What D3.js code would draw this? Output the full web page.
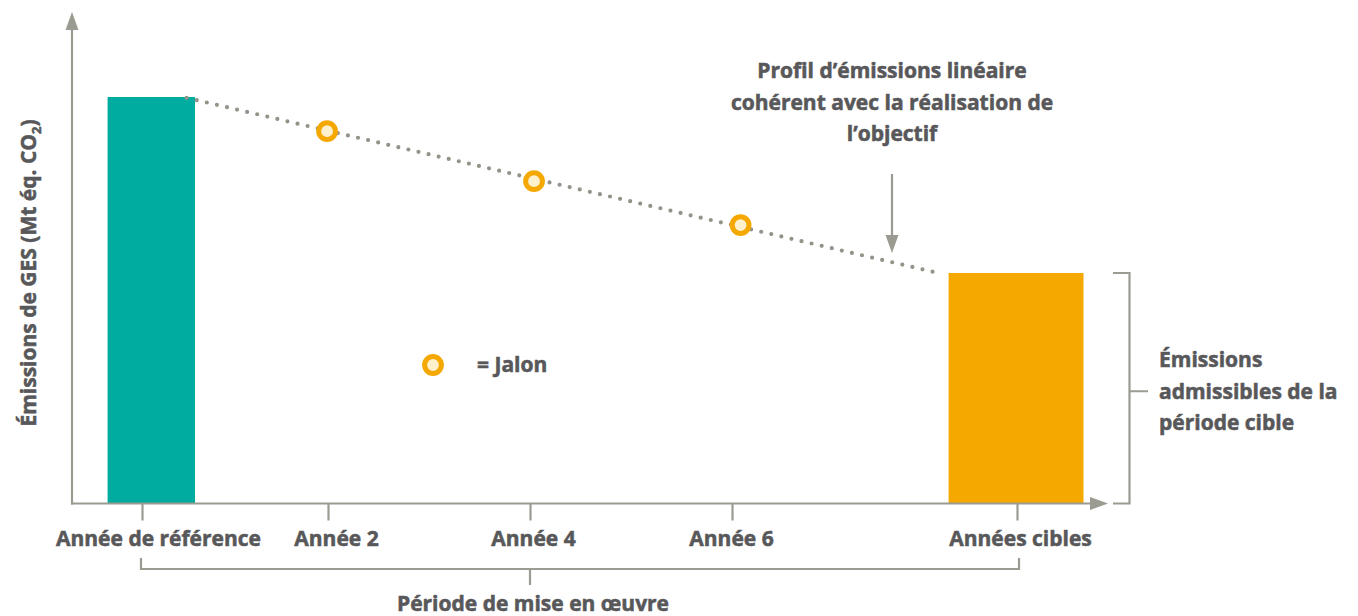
<!DOCTYPE html>
<html lang="fr">
<head>
<meta charset="utf-8">
<script src="https://cdn.jsdelivr.net/npm/d3@7"></script>
<style>
  html, body { margin: 0; padding: 0; background: #ffffff; }
  svg { display: block; }
  text { font-family: "Open Sans", "Noto Sans", sans-serif; font-weight: 700; fill: #58585a; stroke: #58585a; stroke-width: 0.55px; }
</style>
</head>
<body>
<svg id="chart" width="1358" height="616"></svg>
<script>
// Timeline categories (in years from the reference year)
const categories = ["Année de référence", "Année 2", "Année 4", "Année 6", "Années cibles"];
const categoryYears = [0, 2, 4, 6, 9];

// Emission bars: reference year and target years (span in years, value in % of reference)
const barNames = ["Année de référence", "Années cibles"];
const barStartYears = [-0.37, 8.28];
const barEndYears = [0.57, 9.7];
const barValues = [100, 56.7];

// Milestones along the trajectory
const milestoneYears = [1.99, 4.04, 6.09];
const milestoneValues = [91.6, 79.3, 68.5];

// Linear emission profile from reference level to target level
const profileYears = [0.48, 8.19];
const profileValues = [99.8, 56.6];

const COLORS = { teal: "#00aba0", orange: "#f5a800", ring: "#f5a800", ringFill: "#fdf0cd", axis: "#9b9b91", dots: "#93938a" };

const svg = d3.select("#chart");

// Plot frame
const frame = { left: 72, right: 1108, top: 12, bottom: 503.5 };

// Horizontal nudges of the category labels relative to their ticks
const LABEL_NUDGE = [16, 8, 3, -1, 3];

const x = d3.scaleLinear()
  .domain(categoryYears)
  .range([142, 328, 530, 732, 1017]);

const y = d3.scaleLinear()
  .domain([0, 100])
  .range([frame.bottom, 97]);

// Bars
const bars = barNames.map((name, i) => ({ name, x0: barStartYears[i], x1: barEndYears[i], v: barValues[i] }));
svg.append("g").selectAll("rect")
  .data(bars)
  .join("rect")
  .attr("x", d => x(d.x0))
  .attr("width", d => x(d.x1) - x(d.x0))
  .attr("y", d => y(d.v))
  .attr("height", d => y(0) - y(d.v))
  .attr("fill", (d, i) => i === 0 ? COLORS.teal : COLORS.orange);

// Axes
const axisG = svg.append("g");
axisG.append("line")
  .attr("x1", frame.left).attr("x2", frame.left)
  .attr("y1", frame.bottom + 1).attr("y2", frame.top + 14)
  .attr("stroke", COLORS.axis).attr("stroke-width", 2.2);
axisG.append("path")
  .attr("d", `M${frame.left},${frame.top} L${frame.left - 6.5},${frame.top + 18} L${frame.left + 6.5},${frame.top + 18} Z`)
  .attr("fill", COLORS.axis);
axisG.append("line")
  .attr("x1", frame.left - 1).attr("x2", frame.right - 14)
  .attr("y1", frame.bottom).attr("y2", frame.bottom)
  .attr("stroke", COLORS.axis).attr("stroke-width", 2.2);
axisG.append("path")
  .attr("d", `M${frame.right},${frame.bottom} L${frame.right - 18},${frame.bottom - 6.5} L${frame.right - 18},${frame.bottom + 6.5} Z`)
  .attr("fill", COLORS.axis);

// Category ticks and labels
const xAxis = d3.axisBottom(x)
  .tickValues(categoryYears)
  .tickFormat((d, i) => categories[i])
  .tickSize(17)
  .tickPadding(0);
const xAxisG = svg.append("g")
  .attr("transform", `translate(0,${frame.bottom})`)
  .call(xAxis);
xAxisG.attr("font-family", null).attr("font-size", null);
xAxisG.select(".domain").remove();
xAxisG.selectAll(".tick line").attr("stroke", COLORS.axis).attr("stroke-width", 2.2);
xAxisG.selectAll(".tick text")
  .attr("y", 42).attr("dy", 0)
  .attr("x", (d, i) => LABEL_NUDGE[i])
  .attr("font-size", 21)
  .attr("fill", "#58585a");

// Dotted linear profile
svg.append("path")
  .datum(profileYears.map((yr, i) => [yr, profileValues[i]]))
  .attr("d", d3.line().x(d => x(d[0])).y(d => y(d[1])))
  .attr("fill", "none")
  .attr("stroke", COLORS.dots)
  .attr("stroke-width", 4.2)
  .attr("stroke-linecap", "round")
  .attr("stroke-dasharray", "0 10.35");

// Milestones
svg.append("g").selectAll("circle")
  .data(milestoneYears.map((yr, i) => ({ yr, v: milestoneValues[i] })))
  .join("circle")
  .attr("cx", d => x(d.yr))
  .attr("cy", d => y(d.v))
  .attr("r", 8.4)
  .attr("fill", COLORS.ringFill)
  .attr("stroke", COLORS.ring)
  .attr("stroke-width", 5);

// Legend
svg.append("circle")
  .attr("cx", 433).attr("cy", 365).attr("r", 8.4)
  .attr("fill", COLORS.ringFill).attr("stroke", COLORS.ring).attr("stroke-width", 5);
svg.append("text")
  .attr("x", 477).attr("y", 372)
  .attr("font-size", 21)
  .text("= Jalon");

// Y axis title
const yTitle = svg.append("text")
  .attr("transform", "translate(36,273) rotate(-90)")
  .attr("text-anchor", "middle")
  .attr("font-size", 21);
yTitle.append("tspan").text("Émissions de GES (Mt éq. CO");
yTitle.append("tspan").attr("font-size", 13).attr("dy", 5).text("2");
yTitle.append("tspan").attr("dy", -5).text(")");

// Annotation for the linear profile
const note = ["Profil d’émissions linéaire", "cohérent avec la réalisation de", "l’objectif"];
svg.append("g").selectAll("text")
  .data(note)
  .join("text")
  .attr("x", 892)
  .attr("y", (d, i) => 78 + i * 31.5)
  .attr("text-anchor", "middle")
  .attr("font-size", 21)
  .text(d => d);
svg.append("line")
  .attr("x1", 892).attr("x2", 892).attr("y1", 174).attr("y2", 240)
  .attr("stroke", COLORS.axis).attr("stroke-width", 2.2);
svg.append("path")
  .attr("d", "M892,253 L885.5,235 L898.5,235 Z")
  .attr("fill", COLORS.axis);

// Bracket: admissible emissions of the target period
const tgt = bars[1];
const bx = 1129.5;
svg.append("path")
  .attr("d", `M1113,${y(tgt.v)} H${bx} V${y(0)} H1113 M${bx},${(y(tgt.v) + y(0)) / 2 + 3} H1148`)
  .attr("fill", "none").attr("stroke", COLORS.axis).attr("stroke-width", 2.2);
const side = ["Émissions", "admissibles de la", "période cible"];
svg.append("g").selectAll("text")
  .data(side)
  .join("text")
  .attr("x", 1159)
  .attr("y", (d, i) => 367 + i * 31.7)
  .attr("font-size", 21)
  .text(d => d);

// Bracket: implementation period, from the reference year to the target years
const by = 569;
const bLeft = x(categoryYears[0]) - 1;
const bRight = x(categoryYears[4]) + 2;
svg.append("path")
  .attr("d", `M${bLeft},558 V${by} H${bRight} V558 M${x(categoryYears[2])},${by} V585`)
  .attr("fill", "none").attr("stroke", COLORS.axis).attr("stroke-width", 2.2);
svg.append("text")
  .attr("x", 533).attr("y", 611)
  .attr("text-anchor", "middle")
  .attr("font-size", 21)
  .text("Période de mise en œuvre");
</script>
</body>
</html>
